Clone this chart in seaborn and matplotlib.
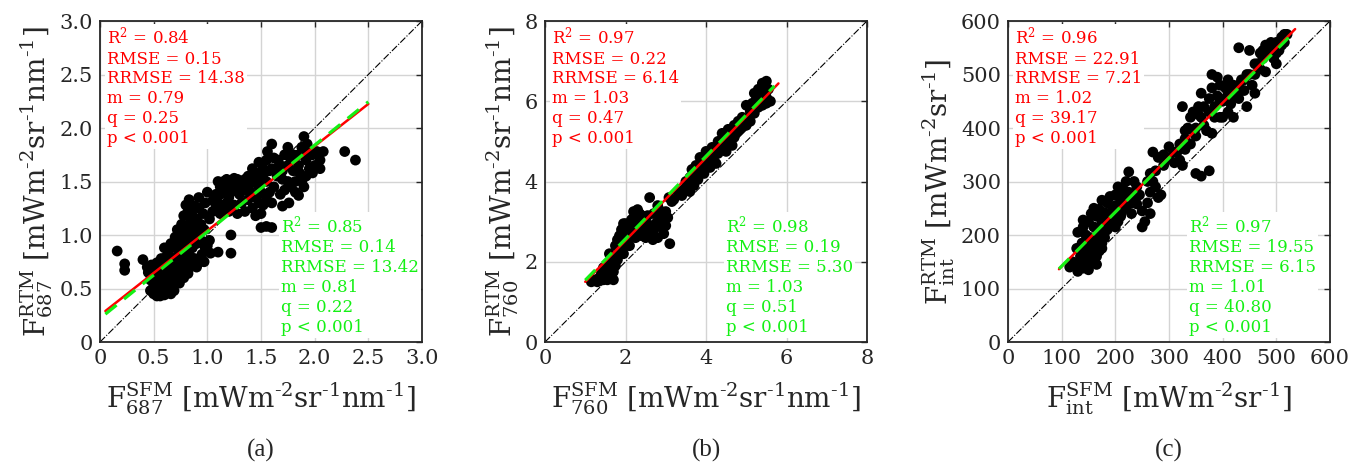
import numpy as np
import pandas as pd
import seaborn as sns
import matplotlib
matplotlib.use("Agg")
import matplotlib.pyplot as plt

# ---------------- data ----------------
a_x = [0.16,0.23,0.23,0.40,1.22,1.22,1.10,1.03,1.50,1.55,1.60,1.70,1.90,2.28,2.38,1.88,1.85,1.60,1.00,0.83,0.92,
       0.47,0.50,0.53,0.56,0.60,0.63,0.66,0.50,0.54,0.58,0.62,0.47,0.52,0.56,0.60,0.65,0.45,0.50,0.55,0.60,0.64,0.68,0.48,0.53,0.58,0.62,0.44,
       0.66,0.70,0.72,0.75,0.78,0.68,0.72,0.76,0.80,0.84,0.64,0.68,0.72,0.76,0.80,0.84,0.88,0.92,0.95,0.98,0.74,0.78,0.82,0.86,0.90,0.94,0.70,0.86,0.90,
       0.72,0.76,0.80,0.84,0.78,0.82,0.86,0.90,0.94,0.88,0.92,0.96,0.98,0.80,0.97,1.02,1.05,1.05,
       1.08,1.12,1.15,1.18,1.10,1.20,1.22,1.25,1.28,1.30,1.33,1.36,1.38,1.25,1.32,1.40,1.15,1.20,1.28,1.35,
       1.42,1.45,1.48,1.50,1.52,1.55,1.45,1.42,1.48,1.55,1.58,1.60,1.52,1.45,1.50,1.58,1.62,1.56,
       1.65,1.68,1.72,1.75,1.78,1.80,1.82,1.78,1.85,1.88,1.92,1.95,1.98,2.02,2.05,2.08,2.00,1.93,1.72,1.70,1.62,1.68,1.76,
       0.49,0.57,0.61,0.66,0.70,0.74,0.69,0.55,0.52,0.57,0.62,0.66,0.70,0.74,0.78,0.82,0.86,0.90,0.94,0.97,1.00,1.02,0.66,0.60,0.82,0.78,0.74,0.88,0.92,0.85,
       1.10,1.12,1.18,1.22,1.25,1.30,1.32,1.35,1.40,1.38,1.28,1.18,1.08,1.12,1.42,1.46,1.50,1.48,1.55,1.53,1.60,1.64,1.66,1.70,1.75,1.80,1.85,1.90,1.95,1.86,1.92,1.98,2.05,1.82,1.90,1.75]
a_y = [0.85,0.73,0.67,0.77,1.00,0.83,0.84,0.83,1.07,1.08,1.07,1.27,1.92,1.78,1.70,1.50,1.37,1.85,1.40,1.33,1.35,
       0.48,0.45,0.43,0.43,0.44,0.46,0.45,0.52,0.50,0.52,0.52,0.58,0.58,0.60,0.58,0.56,0.65,0.66,0.68,0.66,0.64,0.62,0.72,0.74,0.72,0.75,0.70,
       0.70,0.68,0.62,0.66,0.60,0.78,0.80,0.76,0.72,0.70,0.85,0.90,0.88,0.85,0.82,0.80,0.78,0.74,0.82,0.88,0.95,0.93,0.90,0.88,0.92,0.95,0.98,0.98,1.02,
       1.05,1.10,1.05,1.12,1.18,1.22,1.18,1.15,1.10,1.27,1.25,1.20,1.30,1.28,1.05,1.15,1.22,1.32,
       1.38,1.45,1.50,1.42,1.30,1.35,1.48,1.53,1.45,1.38,1.50,1.42,1.33,1.28,1.30,1.48,1.25,1.22,1.20,1.22,
       1.25,1.35,1.45,1.55,1.62,1.70,1.58,1.62,1.68,1.50,1.40,1.30,1.28,1.18,1.20,1.60,1.72,1.78,
       1.55,1.65,1.75,1.82,1.70,1.60,1.50,1.45,1.75,1.82,1.70,1.62,1.75,1.78,1.70,1.78,1.65,1.85,1.42,1.52,1.45,1.38,1.30,
       0.62,0.47,0.62,0.52,0.56,0.55,0.48,0.55,0.70,0.78,0.80,0.74,0.74,0.72,0.68,0.64,0.74,0.70,0.78,0.75,0.90,0.95,0.92,0.88,0.96,1.00,1.02,1.08,1.06,1.03,
       1.50,1.38,1.52,1.40,1.46,1.48,1.42,1.52,1.40,1.55,1.52,1.30,1.25,1.20,1.50,1.50,1.40,1.30,1.35,1.58,1.62,1.62,1.70,1.60,1.65,1.75,1.65,1.78,1.80,1.58,1.55,1.58,1.62,1.40,1.45,1.50]

b_x = [1.15,1.25,1.35,1.45,1.55,1.62,1.40,1.50,1.60,1.70,1.75,1.55,1.60,1.70,1.80,1.85,1.75,1.80,1.85,1.90,1.95,2.00,2.05,2.10,2.00,1.95,
       2.10,2.15,2.20,2.25,2.30,2.35,2.40,2.45,2.50,2.55,2.60,2.62,2.68,2.70,2.75,2.80,2.85,2.90,2.95,3.00,3.05,3.10,3.08,3.15,2.80,2.90,2.40,2.25,
       3.30,3.45,3.55,3.60,3.65,3.70,3.75,3.80,3.85,3.90,3.95,4.00,4.05,4.10,4.15,4.20,4.25,4.30,4.35,4.40,4.45,4.50,4.55,4.60,4.65,4.70,4.75,
       4.80,4.85,4.90,4.95,5.00,5.05,5.10,5.15,5.20,5.25,5.30,5.35,5.40,5.45,5.50,5.55,5.60,5.50,5.30,
       3.20,3.40,3.50,3.60,3.70,3.80,3.90,4.00,4.10,4.20,4.30,4.40,4.50,4.60,4.70,4.80,4.90,5.00,5.10,5.20,5.40,5.50,5.30,
       2.20,2.30,2.50,2.60,2.70,2.00,1.90,1.65,1.45,1.30,1.70,2.90,3.00,2.35]
b_y = [1.50,1.55,1.60,1.55,1.55,1.60,1.70,1.75,1.80,1.75,1.90,1.95,2.20,2.10,2.05,2.25,2.40,2.55,2.65,2.80,2.95,2.70,2.55,2.40,2.40,2.20,
       2.90,3.05,3.25,3.10,2.95,2.80,2.65,2.85,3.00,3.15,3.60,2.70,2.55,2.80,2.95,3.40,3.10,2.85,2.70,2.90,3.10,2.45,3.60,3.50,2.60,3.25,3.15,2.60,
       3.75,3.80,3.90,3.75,4.30,4.10,4.40,4.25,4.60,4.45,4.20,4.75,4.50,4.35,4.85,4.65,4.45,5.00,4.80,5.20,4.95,4.75,5.30,5.10,4.90,5.40,5.20,
       5.50,5.30,5.60,5.45,5.90,5.55,5.75,5.95,6.20,6.05,6.30,6.10,6.45,6.25,6.50,6.30,6.00,5.95,5.85,
       3.55,3.65,4.00,4.10,3.90,4.05,4.30,4.45,4.60,4.50,4.70,4.80,4.95,5.00,5.10,5.25,5.35,5.40,5.50,5.70,5.90,6.10,6.20,
       2.80,3.30,2.60,2.90,3.20,2.95,2.55,1.95,1.85,1.50,1.55,3.00,3.25,3.20]

c_x = [115,125,130,140,150,160,165,135,145,155,128,138,150,160,170,130,140,145,155,165,175,140,150,160,170,180,155,165,175,185,160,170,180,190,200,
       175,185,195,205,190,200,210,215,205,215,225,230,220,225,235,240,210,220,245,240,230,250,255,250,260,265,270,275,280,285,270,280,265,275,290,
       300,310,320,325,300,310,320,330,325,335,340,345,350,345,355,360,365,370,380,385,375,360,380,390,400,395,380,390,405,410,415,420,425,410,400,
       430,440,435,445,430,450,460,455,460,470,465,475,480,485,490,495,500,505,510,515,520,500,350,360,375,340,330,395,445,420,
       120,135,150,140,155,165,175,170,180,185,190,195,200,210,215,200,205,210,230,235,260,265,290,295,315,330,350,355,365,375,385,395,405,410,
       420,430,440,450,460,470,480,490,505,510,515,500,475]
c_y = [140,145,132,138,135,148,145,160,165,160,175,185,180,175,170,205,215,200,195,190,185,228,225,215,210,205,240,235,225,222,250,248,242,235,230,
       265,260,252,245,272,275,265,255,290,285,280,275,300,318,300,290,240,250,275,258,240,245,225,215,260,280,300,290,270,275,355,345,315,320,330,
       345,335,340,330,365,355,370,380,440,400,420,395,385,430,440,420,405,395,390,440,455,465,475,460,450,480,500,495,475,465,445,480,470,430,420,
       455,470,490,500,550,545,465,480,500,510,520,530,505,540,550,530,560,545,570,560,575,520,315,310,320,370,360,420,440,420,
       150,150,150,175,175,160,175,195,195,210,220,240,255,280,270,215,225,235,260,275,300,240,350,340,355,395,400,425,440,430,420,450,455,490,
       460,480,490,500,520,540,555,560,560,555,575,540,545]

# fitted lines: [slope, intercept, x_start, x_end]
fit_red = {"a": [0.79, 0.25, 0.05, 2.50], "b": [1.03, 0.47, 1.00, 5.80], "c": [1.02, 39.17, 95, 535]}
fit_green = {"a": [0.81, 0.22, 0.05, 2.50], "b": [1.03, 0.51, 1.00, 5.70], "c": [1.01, 40.80, 95, 535]}

stats_red = {
    "a": ["0.84", "0.15", "14.38", "0.79", "0.25"],
    "b": ["0.97", "0.22", "6.14", "1.03", "0.47"],
    "c": ["0.96", "22.91", "7.21", "1.02", "39.17"],
}
stats_green = {
    "a": ["0.85", "0.14", "13.42", "0.81", "0.22"],
    "b": ["0.98", "0.19", "5.30", "1.03", "0.51"],
    "c": ["0.97", "19.55", "6.15", "1.01", "40.80"],
}

ticks = {
    "a": [0, 0.5, 1.0, 1.5, 2.0, 2.5, 3.0],
    "b": [0, 2, 4, 6, 8],
    "c": [0, 100, 200, 300, 400, 500, 600],
}
tick_labels = {
    "a": ["0", "0.5", "1.0", "1.5", "2.0", "2.5", "3.0"],
    "b": ["0", "2", "4", "6", "8"],
    "c": ["0", "100", "200", "300", "400", "500", "600"],
}
xlabels = {
    "a": r"F$^{\mathrm{SFM}}_{\mathrm{687}}$ [mWm$^{\text{-2}}$sr$^{\text{-1}}$nm$^{\text{-1}}$]",
    "b": r"F$^{\mathrm{SFM}}_{\mathrm{760}}$ [mWm$^{\text{-2}}$sr$^{\text{-1}}$nm$^{\text{-1}}$]",
    "c": r"F$^{\mathrm{SFM}}_{\mathrm{int}}$ [mWm$^{\text{-2}}$sr$^{\text{-1}}$]",
}
ylabels = {
    "a": r"F$^{\mathrm{RTM}}_{\mathrm{687}}$ [mWm$^{\text{-2}}$sr$^{\text{-1}}$nm$^{\text{-1}}$]",
    "b": r"F$^{\mathrm{RTM}}_{\mathrm{760}}$ [mWm$^{\text{-2}}$sr$^{\text{-1}}$nm$^{\text{-1}}$]",
    "c": r"F$^{\mathrm{RTM}}_{\mathrm{int}}$ [mWm$^{\text{-2}}$sr$^{\text{-1}}$]",
}
panel_names = ["(a)", "(b)", "(c)"]

# ---------------- style ----------------
sns.set_style("white")
plt.rcParams["font.family"] = ["DejaVu Serif"]
plt.rcParams["mathtext.fontset"] = "dejavuserif"

RED = "#ff0000"
GREEN = "#14f014"

fig = plt.figure(figsize=(13.53, 4.62), dpi=100)
lefts = [100, 545, 1008]
W, H = 1353, 462
data = {"a": (a_x, a_y), "b": (b_x, b_y), "c": (c_x, c_y)}

for i, key in enumerate(["a", "b", "c"]):
    ax = fig.add_axes([lefts[i] / W, (H - 342) / H, 322 / W, 321 / H])
    lim = ticks[key][-1]
    ax.set_xlim(0, lim)
    ax.set_ylim(0, lim)
    ax.set_xticks(ticks[key])
    ax.set_yticks(ticks[key])
    ax.set_xticklabels(tick_labels[key])
    ax.set_yticklabels(tick_labels[key])
    ax.grid(True, color="#d4d4d4", lw=1.0)
    ax.set_axisbelow(True)
    ax.tick_params(direction="in", length=4, width=1, top=True, right=True,
                   labelsize=15, colors="#262626", pad=5)
    for sp in ax.spines.values():
        sp.set_color("#262626")
        sp.set_linewidth(1.3)

    # 1:1 line
    ax.plot([0, lim], [0, lim], color="black", lw=0.8, ls="-.", zorder=2)

    xs, ys = data[key]
    df = pd.DataFrame({"x": xs, "y": ys})
    sns.scatterplot(data=df, x="x", y="y", ax=ax, color="black", s=60,
                    edgecolor="none", linewidth=0, zorder=3)

    m, q, x0, x1 = fit_red[key]
    ax.plot([x0, x1], [m * x0 + q, m * x1 + q], color=RED, lw=1.8, zorder=4)
    m, q, x0, x1 = fit_green[key]
    ax.plot([x0, x1], [m * x0 + q, m * x1 + q], color=GREEN, lw=2.3,
            ls=(0, (4.5, 3)), zorder=5)

    r = stats_red[key]
    txt_r = ("R$^2$ = " + r[0] + "\nRMSE = " + r[1] + "\nRRMSE = " + r[2] +
             "\nm = " + r[3] + "\nq = " + r[4] + "\np < 0.001")
    ax.text(0.022, 0.985, txt_r, transform=ax.transAxes, color=RED, fontsize=12,
            va="top", ha="left", linespacing=1.22, zorder=6,
            bbox=dict(facecolor="white", edgecolor="none", pad=1.5))
    g = stats_green[key]
    txt_g = ("R$^2$ = " + g[0] + "\nRMSE = " + g[1] + "\nRRMSE = " + g[2] +
             "\nm = " + g[3] + "\nq = " + g[4] + "\np < 0.001")
    ax.text(0.563, 0.02, txt_g, transform=ax.transAxes, color=GREEN, fontsize=12,
            va="bottom", ha="left", linespacing=1.22, zorder=6,
            bbox=dict(facecolor="white", edgecolor="none", pad=1.5))

    ax.set_xlabel(xlabels[key], fontsize=20, color="#262626", labelpad=9)
    ax.set_ylabel(ylabels[key], fontsize=20, color="#262626", labelpad=3)

    cx = (lefts[i] + 161) / W
    fig.text(cx, 1 - 450 / H, panel_names[i], ha="center", va="center",
             fontsize=18, family=["Liberation Serif"])

fig.savefig("out.png", dpi=100)
